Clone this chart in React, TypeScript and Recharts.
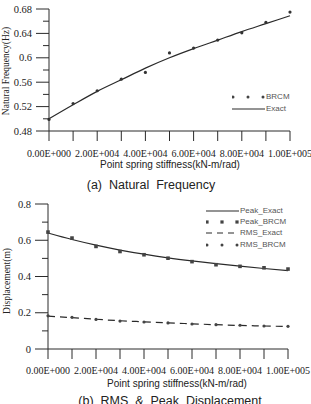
import { LineChart, Line, XAxis, YAxis } from 'recharts';

// stiffness sweep (kN-m/rad)
const stiffness = [0, 10000, 20000, 30000, 40000, 50000, 60000, 70000, 80000, 90000, 100000];

// (a) natural frequency (Hz)
const freqBrcm = [0.499, 0.525, 0.546, 0.565, 0.576, 0.608, 0.616, 0.629, 0.641, 0.658, 0.675];
const freqExact = [0.5, 0.523, 0.545, 0.564, 0.583, 0.6, 0.615, 0.629, 0.643, 0.656, 0.669];

// (b) displacement (m)
const peakBrcm = [0.645, 0.612, 0.566, 0.538, 0.52, 0.501, 0.482, 0.465, 0.456, 0.448, 0.441];
const peakExact = [0.64, 0.604, 0.573, 0.546, 0.523, 0.503, 0.486, 0.471, 0.457, 0.444, 0.432];
const rmsBrcm = [0.183, 0.175, 0.163, 0.154, 0.149, 0.144, 0.138, 0.134, 0.131, 0.127, 0.125];
const rmsExact = [0.181, 0.173, 0.164, 0.156, 0.15, 0.144, 0.139, 0.134, 0.13, 0.127, 0.124];

const freqTicks = [0.48, 0.5, 0.52, 0.54, 0.56, 0.58, 0.6, 0.62, 0.64, 0.66, 0.68];
const dispTicks = [0, 0.1, 0.2, 0.3, 0.4, 0.5, 0.6, 0.7, 0.8];

const INK = '#2a2a2a';
const SERIF = '"Liberation Serif", "Times New Roman", serif';
const SANS = '"Liberation Sans", Arial, sans-serif';

const freqData = stiffness.map((x, i) => ({ x, brcm: freqBrcm[i], exact: freqExact[i] }));
const dispData = stiffness.map((x, i) => ({
  x,
  peakBrcm: peakBrcm[i],
  peakExact: peakExact[i],
  rmsBrcm: rmsBrcm[i],
  rmsExact: rmsExact[i],
}));

// 0 -> 0.00E+000, 20000 -> 2.00E+004; odd ten-thousands stay unlabeled
function fmtSci(v: number): string {
  if (Math.round(v / 10000) % 2 !== 0) return '';
  if (v === 0) return '0.00E+000';
  const e = Math.floor(Math.log10(v));
  const m = v / Math.pow(10, e);
  return `${m.toFixed(2)}E+${String(e).padStart(3, '0')}`;
}

const fmtFreq = (v: number) => (Math.round(v * 100) % 4 === 0 ? String(+v.toFixed(2)) : '');
const fmtDisp = (v: number) => (Math.round(v * 10) % 2 === 0 ? String(+v.toFixed(1)) : '');

const tickStyle = { fontSize: 10, fill: '#222', fontFamily: SERIF };

// y ticks: long mark for labelled values, short mark in between
function makeYTick(fmt: (v: number) => string) {
  return function YTick(props: any) {
    const { x, y, payload } = props;
    const label = fmt(payload.value);
    const len = label ? 13 : 6;
    return (
      <g>
        <line x1={x - len} y1={y} x2={x} y2={y} stroke={INK} strokeWidth={1} />
        {label && (
          <text x={x - 17} y={y} textAnchor="end" dominantBaseline="central" fontSize={10.5} fill="#222" fontFamily={SERIF}>
            {label}
          </text>
        )}
      </g>
    );
  };
}

const FreqTick = makeYTick(fmtFreq);
const DispTick = makeYTick(fmtDisp);

function Square(props: any) {
  const { cx, cy, index } = props;
  return <rect key={`sq${index}`} x={cx - 1.8} y={cy - 1.8} width={3.6} height={3.6} fill="#444" />;
}

type LegendItem = { label: string; kind: 'solid' | 'dash' | 'dots' | 'squares' };

function LegendBox({ items, gap, left, top }: { items: LegendItem[]; gap: number; left: number; top: number }) {
  return (
    <div style={{ position: 'absolute', left, top, fontFamily: SANS, fontSize: 8, color: '#555', lineHeight: 1 }}>
      {items.map((it) => (
        <div key={it.label} style={{ display: 'flex', alignItems: 'center', height: gap }}>
          <svg width={34} height={8} style={{ display: 'block' }}>
            {it.kind === 'solid' && <line x1={0} y1={4} x2={33} y2={4} stroke={INK} strokeWidth={1.2} />}
            {it.kind === 'dash' && (
              <line x1={0} y1={4} x2={33} y2={4} stroke={INK} strokeWidth={1.2} strokeDasharray="6 5" />
            )}
            {it.kind === 'dots' && [1, 16, 31].map((cx) => <circle key={cx} cx={cx} cy={4} r={1.5} fill="#444" />)}
            {it.kind === 'squares' &&
              [1, 16, 31].map((cx) => <rect key={cx} x={cx - 1.6} y={2.4} width={3.2} height={3.2} fill="#444" />)}
          </svg>
          <span style={{ whiteSpace: 'nowrap' }}>{it.label}</span>
        </div>
      ))}
    </div>
  );
}

function Caption({ text, cx, cy, size }: { text: string; cx: number; cy: number; size: number }) {
  return (
    <div
      style={{
        position: 'absolute', left: cx, top: cy, transform: 'translate(-50%, -50%)',
        fontFamily: SANS, fontSize: size, color: '#222', whiteSpace: 'pre', lineHeight: 1,
      }}
    >
      {text}
    </div>
  );
}

function SideTitle({ text, cx, cy }: { text: string; cx: number; cy: number }) {
  return (
    <div
      style={{
        position: 'absolute', left: cx, top: cy, transform: 'translate(-50%, -50%) rotate(-90deg)',
        fontFamily: SERIF, fontSize: 9.5, color: '#222', whiteSpace: 'nowrap', lineHeight: 1,
      }}
    >
      {text}
    </div>
  );
}

export default function App() {
  return (
    <div style={{ position: 'absolute', left: 0, top: 0, width: 311, height: 404, background: '#fff', overflow: 'hidden' }}>
      <div style={{ position: 'absolute', left: 0, top: 0 }}>
        <LineChart width={311} height={200} data={freqData} margin={{ top: 9, right: 21, bottom: 39, left: 9 }}>
          <XAxis
            dataKey="x" type="number" domain={[0, 100000]} ticks={stiffness} interval={0} height={30}
            tickFormatter={fmtSci} tick={tickStyle} tickSize={10} tickMargin={9}
            stroke={INK} tickLine={{ stroke: INK }}
          />
          <YAxis
            type="number" domain={[0.48, 0.68]} ticks={freqTicks} interval={0} width={40}
            tick={<FreqTick />} tickSize={0} tickMargin={0} tickLine={false} stroke={INK}
          />
          <Line
            dataKey="brcm" stroke="none" isAnimationActive={false}
            dot={{ r: 1.6, fill: '#333', stroke: 'none' }} activeDot={false}
          />
          <Line dataKey="exact" type="monotone" stroke={INK} strokeWidth={1.2} dot={false} isAnimationActive={false} />
        </LineChart>
      </div>
      <LegendBox
        left={232} top={91} gap={12}
        items={[{ label: 'BRCM', kind: 'dots' }, { label: 'Exact', kind: 'solid' }]}
      />
      <SideTitle text="Natural Frequency(Hz)" cx={7} cy={71} />
      <Caption text="Point spring stiffness(kN-m/rad)" cx={170} cy={165} size={10} />
      <Caption text="(a)  Natural  Frequency" cx={151} cy={185} size={12.5} />

      <div style={{ position: 'absolute', left: 0, top: 200 }}>
        <LineChart width={311} height={204} data={dispData} margin={{ top: 4, right: 23, bottom: 25, left: 8 }}>
          <XAxis
            dataKey="x" type="number" domain={[0, 100000]} ticks={stiffness} interval={0} height={30}
            tickFormatter={fmtSci} tick={tickStyle} tickSize={10} tickMargin={8}
            stroke={INK} tickLine={{ stroke: INK }}
          />
          <YAxis
            type="number" domain={[0, 0.8]} ticks={dispTicks} interval={0} width={40}
            tick={<DispTick />} tickSize={0} tickMargin={0} tickLine={false} stroke={INK}
          />
          <Line dataKey="peakBrcm" stroke="none" dot={<Square />} activeDot={false} isAnimationActive={false} />
          <Line
            dataKey="rmsBrcm" stroke="none" isAnimationActive={false}
            dot={{ r: 1.6, fill: '#444', stroke: 'none' }} activeDot={false}
          />
          <Line dataKey="peakExact" type="monotone" stroke={INK} strokeWidth={1.2} dot={false} isAnimationActive={false} />
          <Line
            dataKey="rmsExact" type="monotone" stroke={INK} strokeWidth={1.2} strokeDasharray="7 5"
            dot={false} isAnimationActive={false}
          />
        </LineChart>
      </div>
      <LegendBox
        left={206} top={205} gap={11.3}
        items={[
          { label: 'Peak_Exact', kind: 'solid' },
          { label: 'Peak_BRCM', kind: 'squares' },
          { label: 'RMS_Exact', kind: 'dash' },
          { label: 'RMS_BRCM', kind: 'dots' },
        ]}
      />
      <SideTitle text="Displacement(m)" cx={8} cy={281} />
      <Caption text="Point spring stiffness(kN-m/rad)" cx={177} cy={384} size={10} />
      <Caption text="(b)  RMS  &  Peak  Displacement" cx={170} cy={401} size={12.5} />
    </div>
  );
}
